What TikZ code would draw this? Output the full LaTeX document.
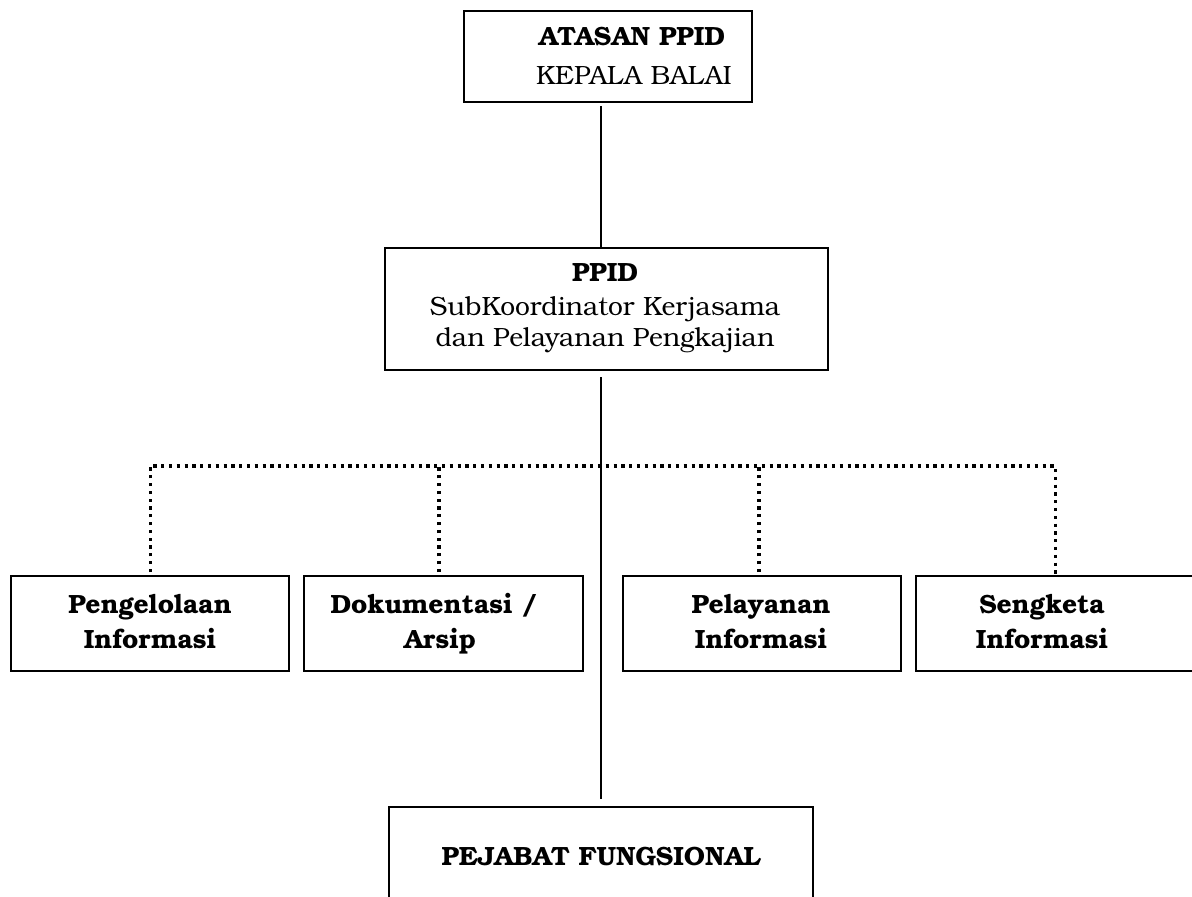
\documentclass[tikz,border=0pt]{standalone}
\usepackage{fontspec}
\setmainfont{texgyrebonum}[Extension=.otf,UprightFont=*-regular,BoldFont=*-bold,ItalicFont=*-italic,BoldItalicFont=*-bolditalic]
\begin{document}
\begin{tikzpicture}[x=0.5pt,y=-0.5pt,
  box/.style={draw, line width=1.1pt, inner sep=0pt, anchor=north west},
  lbl/.style={anchor=base, inner sep=0pt, font=\fontsize{13.2}{15}\selectfont},
  blbl/.style={lbl, font=\fontsize{13.2}{15}\selectfont\bfseries},
  solidline/.style={line width=1pt},
  dotline/.style={line width=1.6pt, dash pattern=on 1.6pt off 2.3pt}]
\useasboundingbox (0,0) rectangle (1192,897);
\clip (0,0) rectangle (1192,897);
% boxes
\node[box, minimum width=144pt, minimum height=45.5pt] (top) at (463,10) {};
\node[box, minimum width=221.5pt, minimum height=61pt] (ppid) at (384,247) {};
\node[box, minimum width=139pt, minimum height=47.5pt] (b1) at (10,575) {};
\node[box, minimum width=139.5pt, minimum height=47.5pt] (b2) at (303,575) {};
\node[box, minimum width=139pt, minimum height=47.5pt] (b3) at (622,575) {};
\node[box, minimum width=139pt, minimum height=47.5pt] (b4) at (915,575) {};
\node[box, minimum width=212pt, minimum height=60pt] (bot) at (388,806) {};
% texts
\node[blbl] (t1a) at (632,46) {ATASAN PPID};
\node[lbl] (t1b) at (634,85) {KEPALA BALAI};
\node[blbl] (t2a) at (605,282) {PPID};
\node[lbl] (t2b) at (605,316) {SubKoordinator Kerjasama};
\node[lbl] (t2c) at (605,347) {dan Pelayanan Pengkajian};
\node[blbl] (t3a) at (150,613) {Pengelolaan};
\node[blbl] (t3b) at (150,648) {Informasi};
\node[blbl] (t4a) at (434,613) {Dokumentasi /};
\node[blbl] (t4b) at (440,648) {Arsip};
\node[blbl] (t5a) at (761,613) {Pelayanan};
\node[blbl] (t5b) at (761,648) {Informasi};
\node[blbl] (t6a) at (1042,613) {Sengketa};
\node[blbl] (t6b) at (1042,648) {Informasi};
\node[blbl] (t7) at (601,865) {PEJABAT FUNGSIONAL};
% connectors
\coordinate (spine) at (601,0);
\coordinate (bus) at (0,466);
\draw[solidline, shorten <=1.5pt] (top.south -| spine) -- (ppid.north -| spine);
\draw[solidline, shorten <=3pt, shorten >=3.5pt] (ppid.south -| spine) -- (bot.north -| spine);
\draw[dotline, shorten <=1.5pt] (b1.north) -- (b1.north |- bus) -- (b4.north |- bus) -- (b4.north);
\draw[dotline, shorten <=1.5pt] (b2.north -| 439,0) -- (bus -| 439,0);
\draw[dotline, shorten <=1.5pt] (b3.north -| 759,0) -- (bus -| 759,0);
\end{tikzpicture}
\end{document}
